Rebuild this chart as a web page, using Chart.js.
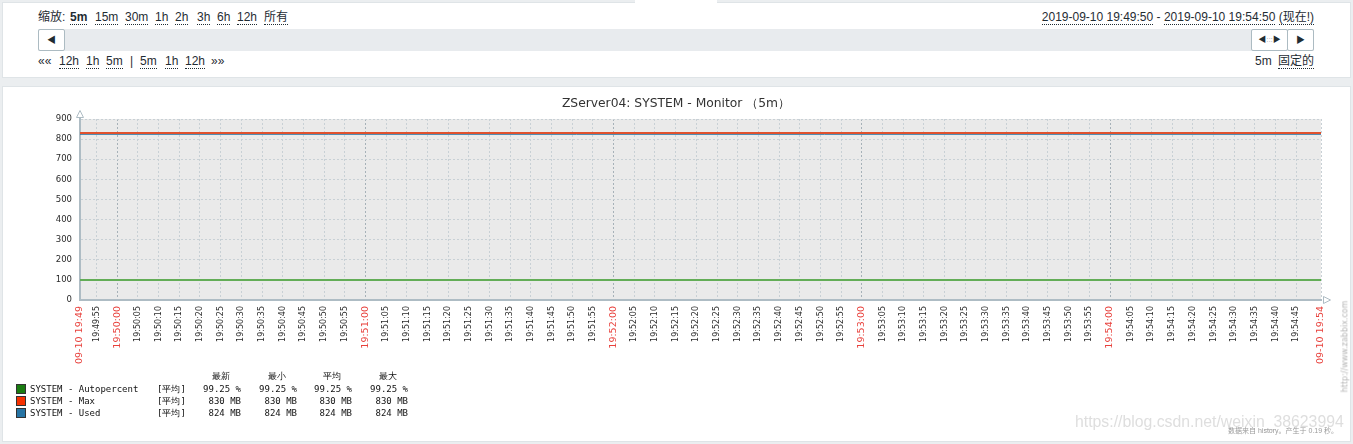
<!DOCTYPE html>
<html>
<head>
<meta charset="utf-8">
<script src="https://cdn.jsdelivr.net/npm/chart.js@4/dist/chart.umd.min.js"></script>
<style>
body{margin:0;background:#ebeef0;width:1353px;height:444px;overflow:hidden;position:relative;
  font-family:Arial,"Liberation Sans","Noto Sans CJK SC",sans-serif;font-size:12px;color:#1f2c33}
.panel{position:absolute;background:#fff;border:1px solid #dfe4e7;box-sizing:border-box}
#top{left:2px;top:2px;width:1349px;height:76px}
#tab{position:absolute;left:635px;top:0;width:82px;height:4px;background:#fff}
#chartBox{left:2px;top:86px;width:1349px;height:356px}
.a{position:absolute;white-space:nowrap;line-height:14px}
.u{border-bottom:1px dotted #1f2c33}
.bar{position:absolute;left:38px;top:29px;width:1276px;height:22px;background:#e8ebee}
.btn{position:absolute;top:29px;height:22px;box-sizing:border-box;background:#fff;border:1px solid #acbbc2;border-radius:2px;
  font-size:9px;line-height:20px;text-align:center;color:#1f2c33}
#wrap{position:absolute;left:3px;top:87px;width:1346px;height:353px}
.lg{position:absolute;font-family:"DejaVu Sans Mono",monospace;font-size:9px;line-height:12px;color:#111;white-space:pre}
.sw{position:absolute;width:8px;height:8px;border:1px solid #333}
</style>
</head>
<body>
<div class="panel" id="top"></div>
<div id="tab"></div>

<div class="a" style="left:38px;top:10px">缩放:</div>
<div class="a u" style="left:70px;top:10px;font-weight:bold">5m</div>
<div class="a u" style="left:95px;top:10px">15m</div>
<div class="a u" style="left:125px;top:10px">30m</div>
<div class="a u" style="left:155px;top:10px">1h</div>
<div class="a u" style="left:175px;top:10px">2h</div>
<div class="a u" style="left:197px;top:10px">3h</div>
<div class="a u" style="left:217px;top:10px">6h</div>
<div class="a u" style="left:237px;top:10px">12h</div>
<div class="a u" style="left:264px;top:10px">所有</div>
<div class="a" style="right:39px;top:10px"><span class="u">2019-09-10 19:49:50</span> - <span class="u">2019-09-10 19:54:50</span> <span class="u">(现在!)</span></div>

<div class="bar"></div>
<div class="btn" style="left:38px;width:27px">&#9664;</div>
<div class="btn" style="left:1251px;width:37px;font-size:8px">&#9664;<span style="color:#aaa">:::</span>&#9654;</div>
<div class="btn" style="left:1287px;width:27px">&#9654;</div>

<div class="a" style="left:38px;top:54px">««</div>
<div class="a u" style="left:59px;top:54px">12h</div>
<div class="a u" style="left:86px;top:54px">1h</div>
<div class="a u" style="left:106px;top:54px">5m</div>
<div class="a" style="left:130px;top:54px">|</div>
<div class="a u" style="left:140px;top:54px">5m</div>
<div class="a u" style="left:165px;top:54px">1h</div>
<div class="a u" style="left:185px;top:54px">12h</div>
<div class="a" style="left:211px;top:54px">»»</div>
<div class="a" style="left:1255px;top:54px">5m</div>
<div class="a u" style="left:1278px;top:54px">固定的</div>

<div class="panel" id="chartBox"></div>
<div id="wrap"><canvas id="chart"></canvas></div>

<div id="legend"></div>

<div class="a" style="left:1075px;top:412px;font-size:15.8px;line-height:20px;color:rgba(190,190,190,0.5)">https://blog.csdn.net/weixin_38623994</div>
<div class="a" style="left:1228px;top:426px;font-size:7px;line-height:9px;color:#9a9a9a">数据来自 history。产生于 0.19 秒。</div>
<div class="a" style="left:1299px;top:342px;font-family:'DejaVu Sans';font-size:8px;line-height:9px;color:#b5b5b5;transform:rotate(-90deg);transform-origin:center">http://www.zabbix.com</div>

<script>
// time axis in seconds since midnight (19:49:51 .. 19:54:51)
const xMin = 71391, xMax = 71691;
const tickStep = 5;
const edgeLabels = ['09-10 19:49', '09-10 19:54'];

const sampleTimes = [71391, 71451, 71511, 71571, 71631, 71691];
const autopercent = [99.25, 99.25, 99.25, 99.25, 99.25, 99.25];
const maxValues = [830, 830, 830, 830, 830, 830];
const usedValues = [824, 824, 824, 824, 824, 824];

const yTicks = [0, 100, 200, 300, 400, 500, 600, 700, 800, 900];

const seriesNames = ['SYSTEM - Autopercent', 'SYSTEM - Max', 'SYSTEM - Used'];
const seriesColors = ['#1a7c11', '#f63100', '#2774a4'];
const lineColors = ['#63ad57', '#e0512e', '#2774a4'];
const legendHeads = ['最新', '最小', '平均', '最大'];
const legendRows = [
  ['99.25 %', '99.25 %', '99.25 %', '99.25 %'],
  ['830 MB', '830 MB', '830 MB', '830 MB'],
  ['824 MB', '824 MB', '824 MB', '824 MB']
];

function pad(n) { return (n < 10 ? '0' : '') + n; }
function hms(s) {
  return pad(Math.floor(s / 3600)) + ':' + pad(Math.floor(s / 60) % 60) + ':' + pad(s % 60);
}
function isRed(c) {
  if (!c || !c.tick) return false;
  var v = c.tick.value;
  return v === xMin || v === xMax || v % 60 === 0;
}

function pts(vals) {
  return sampleTimes.map(function(t, i) { return {x: t, y: vals[i]}; });
}

// legend (html)
var lg = document.getElementById('legend');
var html = '';
var colRight = [241, 297, 352, 408];
legendHeads.forEach(function(h, i) {
  html += '<div class="lg" style="top:370px;left:' + (colRight[i] - 30) + 'px;width:20px;text-align:center">' + h + '</div>';
});
seriesNames.forEach(function(name, r) {
  var top = 383 + r * 12;
  html += '<div class="sw" style="left:16px;top:' + (top + 1) + 'px;background:' + seriesColors[r] + '"></div>';
  html += '<div class="lg" style="left:30px;top:' + top + 'px">' + name + '</div>';
  html += '<div class="lg" style="left:157px;top:' + top + 'px">[平均]</div>';
  legendRows[r].forEach(function(v, c) {
    html += '<div class="lg" style="left:' + (colRight[c] - 60) + 'px;width:60px;text-align:right;top:' + top + 'px">' + v + '</div>';
  });
});
lg.innerHTML = html;

const plotBg = {
  id: 'plotBg',
  beforeDraw: function(chart) {
    var a = chart.chartArea, ctx = chart.ctx;
    ctx.save();
    ctx.fillStyle = '#eaeaea';
    ctx.fillRect(a.left, a.top, a.right - a.left, a.bottom - a.top);
    ctx.restore();
  },
  afterDraw: function(chart) {
    var a = chart.chartArea, ctx = chart.ctx;
    ctx.save();
    // title
    ctx.fillStyle = '#333';
    ctx.font = '12.3px "DejaVu Sans", sans-serif';
    ctx.textAlign = 'center';
    ctx.textBaseline = 'middle';
    ctx.fillText('ZServer04: SYSTEM - Monitor （5m）', chart.width / 2, 17);
    // axis arrows
    ctx.strokeStyle = '#aebcc4';
    ctx.fillStyle = '#fff';
    ctx.lineWidth = 1;
    ctx.beginPath();
    ctx.moveTo(a.left - 3.5, a.top - 1.5);
    ctx.lineTo(a.left, a.top - 8.5);
    ctx.lineTo(a.left + 3.5, a.top - 1.5);
    ctx.closePath();
    ctx.fill(); ctx.stroke();
    ctx.beginPath();
    ctx.moveTo(a.right + 2.5, a.bottom - 3.5);
    ctx.lineTo(a.right + 9.5, a.bottom);
    ctx.lineTo(a.right + 2.5, a.bottom + 3.5);
    ctx.closePath();
    ctx.fill(); ctx.stroke();
    ctx.restore();
  }
};

new Chart(document.getElementById('chart'), {
  type: 'line',
  data: {
    datasets: [
      {label: seriesNames[0], data: pts(autopercent), borderColor: lineColors[0], borderWidth: 2, order: 2},
      {label: seriesNames[1], data: pts(maxValues), borderColor: lineColors[1], borderWidth: 2, order: 0},
      {label: seriesNames[2], data: pts(usedValues), borderColor: lineColors[2], borderWidth: 1, order: 1}
    ]
  },
  options: {
    responsive: true,
    maintainAspectRatio: false,
    animation: false,
    elements: {point: {radius: 0}, line: {tension: 0}},
    layout: {padding: {left: 0, top: 32, right: 28, bottom: 0}},
    plugins: {legend: {display: false}, tooltip: {enabled: false}},
    scales: {
      x: {
        type: 'linear',
        min: xMin,
        max: xMax,
        afterFit: function(s) { s.height = 140; },
        afterBuildTicks: function(s) {
          var t = [{value: xMin}];
          for (var v = xMin - xMin % tickStep + tickStep; v <= xMax - tickStep; v += tickStep) t.push({value: v});
          t.push({value: xMax});
          s.ticks = t;
        },
        grid: {
          drawTicks: false,
          color: function(c) {
            var v = c.tick ? c.tick.value : 1;
            return v % 60 === 0 ? '#a6b1b8' : '#c8d0d5';
          },
          lineWidth: 1
        },
        border: {display: true, color: '#aebcc4', width: 2, dash: [2, 2]},
        ticks: {
          autoSkip: false,
          maxRotation: 90,
          minRotation: 90,
          padding: 6,
          color: function(c) { return isRed(c) ? '#e8413c' : '#2b2b2b'; },
          font: function(c) {
            return {family: '"DejaVu Sans", sans-serif', size: isRed(c) ? 9.5 : 8};
          },
          callback: function(v) {
            if (v === xMin) return edgeLabels[0];
            if (v === xMax) return edgeLabels[1];
            return hms(v);
          }
        }
      },
      y: {
        min: yTicks[0],
        max: yTicks[yTicks.length - 1],
        afterFit: function(s) { s.width = 77; },
        afterBuildTicks: function(s) { s.ticks = yTicks.map(function(v) { return {value: v}; }); },
        grid: {drawTicks: false, color: '#c8d0d5', lineWidth: 1},
        border: {display: true, color: '#aebcc4', width: 2, dash: [2, 2]},
        ticks: {
          padding: 8,
          color: '#2b2b2b',
          font: {family: '"DejaVu Sans", sans-serif', size: 8.5}
        }
      }
    }
  },
  plugins: [plotBg]
});
</script>
</body>
</html>
